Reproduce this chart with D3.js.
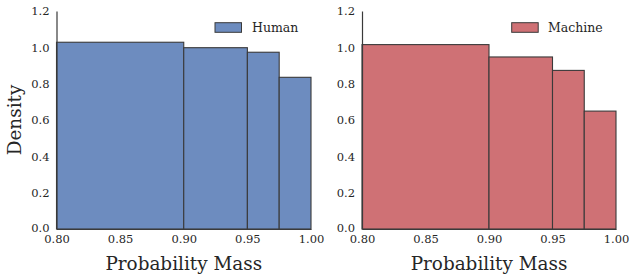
<!DOCTYPE html>
<html><head><meta charset="utf-8">
<script src="https://cdn.jsdelivr.net/npm/d3@7"></script>
<style>body{margin:0;background:#fff}svg{display:block}text{font-family:"DejaVu Serif",serif;fill:#262626}</style>
</head><body><svg id="c" width="635" height="279"></svg>
<script>
const binEdges = [0.80, 0.90, 0.95, 0.975, 1.00];
const humanDensity = [1.028, 0.998, 0.973, 0.835];
const machineDensity = [1.015, 0.947, 0.873, 0.649];
const xTicks = [0.80, 0.85, 0.90, 0.95, 1.00];
const yTicks = [0.0, 0.2, 0.4, 0.6, 0.8, 1.0, 1.2];
const panels = [
  {name: "Human", values: humanDensity, color: "#6d8cbf", left: 56.5, right: 311},
  {name: "Machine", values: machineDensity, color: "#cf7175", left: 362, right: 616}
];
const svg = d3.select("#c");
const y = d3.scaleLinear().domain([0, 1.2]).range([229, 11]);
panels.forEach((p, i) => {
  const x = d3.scaleLinear().domain([0.8, 1.0]).range([p.left, p.right]);
  const g = svg.append("g");
  const bins = p.values.map((v, j) => ({x0: binEdges[j], x1: binEdges[j+1], v}));
  g.selectAll("rect.bar").data(bins).enter().append("rect")
    .attr("x", d => x(d.x0)).attr("width", d => x(d.x1) - x(d.x0))
    .attr("y", d => y(d.v)).attr("height", d => y(0) - y(d.v))
    .attr("fill", p.color).attr("stroke", "#3a3a3a").attr("stroke-width", 1.1);
  const xa = g.append("g").attr("transform", "translate(0,229)")
    .call(d3.axisBottom(x).tickValues(xTicks).tickFormat(d3.format(".2f")).tickSize(0).tickPadding(6));
  xa.select(".domain").attr("stroke", "#3a3a3a").attr("stroke-width", 1.2);
  xa.selectAll("text").style("font-size", "11.5px").style("font-family", "DejaVu Serif").attr("fill", "#262626");
  const ya = g.append("g").attr("transform", `translate(${p.left},0)`)
    .call(d3.axisLeft(y).tickValues(yTicks).tickFormat(d3.format(".1f")).tickSize(0).tickPadding(7));
  ya.select(".domain").attr("stroke", "#3a3a3a").attr("stroke-width", 1.2);
  ya.selectAll("text").style("font-size", "11.5px").style("font-family", "DejaVu Serif").attr("fill", "#262626");
  ya.selectAll(".tick").filter(d => d === 0).select("text").attr("dy", "0.2em");
  g.append("text").attr("x", (p.left + p.right) / 2).attr("y", 270).attr("text-anchor", "middle")
    .style("font-size", "18.4px").text("Probability Mass");
  if (i === 0) {
    g.append("text").attr("transform", `translate(21,${(11+229)/2}) rotate(-90)`).attr("text-anchor", "middle")
      .style("font-size", "18.4px").text("Density");
  }
  g.append("rect").attr("x", p.left + (i === 0 ? 158.5 : 149.7)).attr("y", 22.7).attr("width", 26.5).attr("height", 9.6)
    .attr("fill", p.color).attr("stroke", "#3a3a3a").attr("stroke-width", 1);
  g.append("text").attr("x", p.left + (i === 0 ? 195.5 : 186)).attr("y", 31.8)
    .style("font-size", "12.5px").text(p.name);
});
</script></body></html>
